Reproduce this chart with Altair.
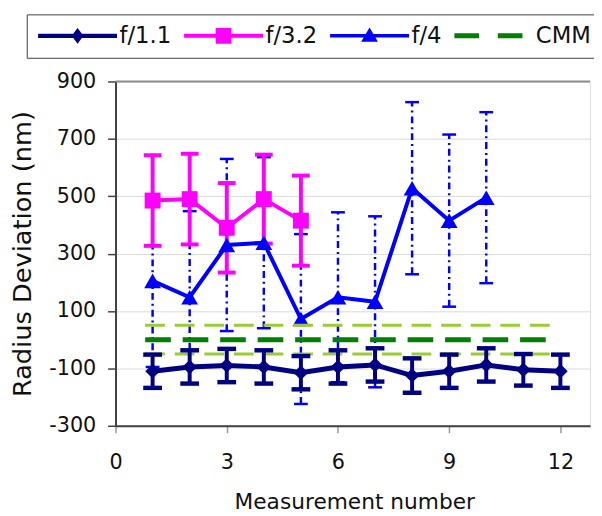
import altair as alt
import pandas as pd

# ---------------- data ----------------
SERIES = ["f/1.1", "f/3.2", "f/4", "CMM"]

F11_X = [1, 2, 3, 4, 5, 6, 7, 8, 9, 10, 11, 12]
F11_Y = [-110, -95, -90, -95, -115, -95, -88, -125, -110, -88, -105, -110]
F11_ERR = [58, 58, 58, 58, 58, 58, 58, 60, 58, 58, 55, 58]

F32_X = [1, 2, 3, 4, 5]
F32_Y = [485, 490, 390, 490, 415]
F32_ERR = [158, 158, 156, 155, 157]

F4_X = [1, 2, 3, 4, 5, 6, 7, 8, 9, 10]
F4_Y = [205, 148, 330, 338, 72, 148, 132, 528, 415, 495]
F4_ERR = [300, 300, 300, 298, 296, 296, 298, 300, 300, 298]

CMM_VALUE = 0
CMM_TOL = 50
CMM_START = 0.8
CMM_END = 11.8

X_DOMAIN = [0, 12.8]
X_TICKS = [0, 3, 6, 9, 12]
Y_DOMAIN = [-300, 900]
Y_TICKS = [-300, -100, 100, 300, 500, 700, 900]

# ---------------- styles ----------------
FONT = "DejaVu Sans"
COLORS = {"f/1.1": "#000080", "f/3.2": "#FF00FF", "f/4": "#0000FF", "CMM": "#008000"}
CMM_LIGHT = "#9ACD32"
STYLE = {
    "f/1.1": dict(line=5, marker="diamond", msize=220, err_w=4, cap=19, cap_t=4.5, dash=[1, 0]),
    "f/3.2": dict(line=4, marker="square", msize=260, err_w=4, cap=18, cap_t=4, dash=[1, 0]),
    "f/4": dict(line=4, marker="triangle-up", msize=290, err_w=2.5, cap=14, cap_t=2.5, dash=[7, 4, 2, 4]),
}
# legend symbols: line + marker, drawn in units of 10 px, starting at the entry's left edge
LEGEND_PATHS = [
    "M-1,-0.22L7,-0.22L7,0.22L-1,0.22Z M3,-0.8L3.6,0L3,0.8L2.4,0Z",
    "M-1,-0.2L7,-0.2L7,0.2L-1,0.2Z M2.2,-0.8L3.8,-0.8L3.8,0.8L2.2,0.8Z",
    "M-1,-0.18L7,-0.18L7,0.18L-1,0.18Z M3,-0.85L3.85,0.6L2.15,0.6Z",
    "M-1,-0.25L1.5,-0.25L1.5,0.25L-1,0.25Z M3.4,-0.25L5.9,-0.25L5.9,0.25L3.4,0.25Z",
]

def frame(name, xs, ys, errs):
    return pd.DataFrame({"series": name, "x": xs, "y": ys, "err": errs})

df = pd.concat([
    frame("f/1.1", F11_X, F11_Y, F11_ERR),
    frame("f/3.2", F32_X, F32_Y, F32_ERR),
    frame("f/4", F4_X, F4_Y, F4_ERR),
], ignore_index=True)

cmm_df = pd.DataFrame({
    "kind": ["tol", "tol", "mid"],
    "y": [CMM_VALUE + CMM_TOL, CMM_VALUE - CMM_TOL, CMM_VALUE],
    "x": [CMM_START] * 3,
    "x2": [CMM_END] * 3,
})
top_df = pd.DataFrame({"y": [Y_DOMAIN[1]]})

x_axis = alt.Axis(values=X_TICKS, title="Measurement number", grid=False,
                  domainColor="#404040", domainWidth=2, tickColor="#999999",
                  tickSize=7, tickWidth=1.5, labelFont=FONT, labelFontSize=21,
                  labelColor="#111111", labelPadding=19, labelFlush=False,
                  labelExpr="'' + datum.value",
                  titleFont=FONT, titleFontSize=22, titleFontWeight="normal",
                  titleColor="#111111", titleX=242, titleY=84,
                  titleBaseline="alphabetic", titleAlign="center")
y_axis = alt.Axis(values=Y_TICKS, title="Radius Deviation (nm)", grid=True,
                  gridColor="#d9d9d9", gridWidth=1, domainColor="#404040",
                  domainWidth=2, tickColor="#404040", tickSize=8, tickWidth=1.5,
                  labelFont=FONT, labelFontSize=21, labelColor="#111111",
                  labelPadding=12, labelFlush=False, labelExpr="'' + datum.value",
                  titleFont=FONT, titleFontSize=26,
                  titleFontWeight="normal", titleColor="#111111", titleX=-86,
                  titleY=174.5, titleAngle=270, titleBaseline="alphabetic",
                  titleAlign="center")
xs = alt.Scale(domain=X_DOMAIN, nice=False, zero=False)
ys = alt.Scale(domain=Y_DOMAIN, nice=False, zero=False)

def X(f="x"):
    return alt.X(f"{f}:Q", scale=xs, axis=x_axis)

def Y(f="y"):
    return alt.Y(f"{f}:Q", scale=ys, axis=y_axis)

base = alt.Chart(df)

def err_layers(name):
    s = STYLE[name]
    c = COLORS[name]
    sub = base.transform_filter(alt.datum.series == name).transform_calculate(
        lo="datum.y - datum.err", hi="datum.y + datum.err")
    bar = sub.mark_rule(color=c, strokeWidth=s["err_w"], strokeDash=s["dash"]).encode(
        x=X(), y=Y("lo"), y2="hi:Q")
    caps = sub.transform_fold(["lo", "hi"], as_=["end", "v"]).mark_point(
        shape="stroke", size=s["cap"] ** 2, strokeWidth=s["cap_t"], filled=False,
        color=c, opacity=1).encode(x=X(), y=Y("v"))
    return [bar, caps]

def line_layers(name):
    s = STYLE[name]
    c = COLORS[name]
    sub = base.transform_filter(alt.datum.series == name)
    line = sub.mark_line(color=c, strokeWidth=s["line"]).encode(x=X(), y=Y())
    pts = sub.mark_point(shape=s["marker"], size=s["msize"], filled=True, color=c,
                         opacity=1).encode(x=X(), y=Y())
    return [line, pts]

top_rule = alt.Chart(top_df).mark_rule(color="#8c8c8c", strokeWidth=2).encode(y=Y())

cmm_base = alt.Chart(cmm_df)
cmm_tol = cmm_base.transform_filter(alt.datum.kind == "tol").mark_rule(
    color=CMM_LIGHT, strokeWidth=3, strokeDash=[20, 10]).encode(x=X(), x2="x2:Q", y=Y())
cmm_mid = cmm_base.transform_filter(alt.datum.kind == "mid").mark_rule(
    color=COLORS["CMM"], strokeWidth=5, strokeDash=[26, 12]).encode(x=X(), x2="x2:Q", y=Y())

legend = alt.Legend(orient="none", legendX=-90, legendY=-68, direction="horizontal",
                    columns=4, symbolSize=400, symbolStrokeWidth=0, symbolOpacity=1,
                    symbolOffset=0, labelOffset=61, columnPadding=11, padding=10,
                    strokeColor="#404040", fillColor="white", labelFont=FONT,
                    labelFontSize=23, labelColor="#111111", labelLimit=0,
                    labelExpr="datum.label == 'CMM' ? 'CMM      ' : datum.label")
legend_layer = base.mark_point(filled=True, opacity=0, size=400).encode(
    x=X(), y=Y(),
    color=alt.Color("series:N", title=None,
                    scale=alt.Scale(domain=SERIES, range=[COLORS[k] for k in SERIES]),
                    legend=legend),
    shape=alt.Shape("series:N", title=None,
                    scale=alt.Scale(domain=SERIES, range=LEGEND_PATHS),
                    legend=legend),
)

layers = ([top_rule]
          + err_layers("f/4")
          + err_layers("f/3.2")
          + line_layers("f/3.2")
          + line_layers("f/4")
          + [cmm_tol, cmm_mid]
          + err_layers("f/1.1")
          + line_layers("f/1.1")
          + [legend_layer])

chart = alt.layer(*layers).properties(
    width=481, height=349,
    autosize=alt.AutoSizeParams(type="none"),
    padding={"left": 109, "top": 71, "right": 4, "bottom": 88},
).configure_view(stroke="#dddddd", strokeWidth=1)

chart.save("out.html", embed_options={"renderer": "svg", "actions": False})
